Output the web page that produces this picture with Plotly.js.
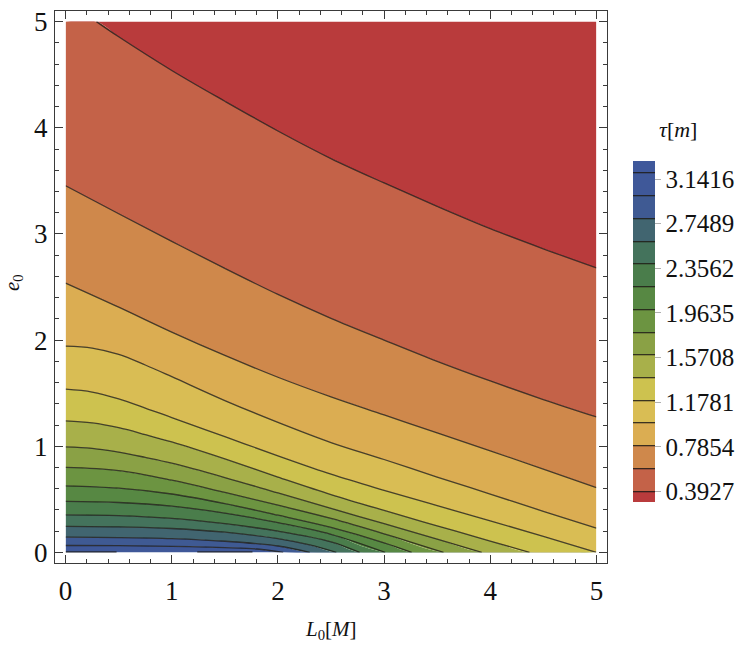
<!DOCTYPE html>
<html>
<head>
<meta charset="utf-8">
<script src="https://cdn.plot.ly/plotly-3.0.1.min.js"></script>
<style>html,body{margin:0;padding:0;background:#ffffff;}</style>
</head>
<body>
<div id="chart" style="width:747px;height:646px;"></div>
<script>
// ---------------- data ----------------
// contour levels of tau[m] (lines drawn every 0.2)
const levels = [0.4, 0.6, 0.8, 1.0, 1.2, 1.4, 1.6, 1.8, 2.0, 2.2, 2.4, 2.6, 2.8, 3.0];

// each contour line: L0 positions and e0 positions
const lvl04_L0 = [0.29, 0.5, 1.0, 1.5, 2.0, 2.5, 3.0, 3.5, 4.0, 4.5, 5.0];
const lvl04_e0 = [5.0, 4.857, 4.54, 4.25, 3.97, 3.71, 3.48, 3.26, 3.05, 2.86, 2.68];

const lvl06_L0 = [0, 0.5, 1.0, 1.5, 2.0, 2.5, 3.0, 3.5, 4.0, 4.5, 5.0];
const lvl06_e0 = [3.454, 3.19, 2.93, 2.675, 2.43, 2.205, 2.0, 1.80, 1.615, 1.44, 1.276];

const lvl08_L0 = [0, 0.5, 1.0, 1.5, 2.0, 2.5, 3.0, 3.5, 4.0, 4.5, 5.0];
const lvl08_e0 = [2.537, 2.31, 2.075, 1.855, 1.65, 1.465, 1.295, 1.125, 0.957, 0.785, 0.611];

const lvl10_L0 = [0, 0.25, 0.5, 0.75, 1.0, 1.5, 2.0, 2.5, 3.0, 3.5, 4.0, 4.5, 5.0];
const lvl10_e0 = [1.944, 1.925, 1.865, 1.765, 1.655, 1.43, 1.225, 1.035, 0.875, 0.71, 0.549, 0.387, 0.229];

const lvl12_L0 = [0, 0.25, 0.5, 0.75, 1.0, 1.5, 2.0, 2.5, 3.0, 3.5, 4.0, 4.5, 5.0];
const lvl12_e0 = [1.537, 1.51, 1.445, 1.36, 1.27, 1.09, 0.91, 0.737, 0.585, 0.44, 0.298, 0.15, 0];

const lvl14_L0 = [0, 0.25, 0.5, 0.75, 1.0, 1.5, 2.0, 2.5, 3.0, 3.5, 4.0, 4.37];
const lvl14_e0 = [1.239, 1.22, 1.175, 1.11, 1.04, 0.88, 0.71, 0.545, 0.395, 0.25, 0.107, 0];

const lvl16_L0 = [0, 0.25, 0.5, 0.75, 1.0, 1.5, 2.0, 2.5, 3.0, 3.5, 3.92];
const lvl16_e0 = [0.994, 0.98, 0.945, 0.895, 0.84, 0.705, 0.56, 0.415, 0.27, 0.125, 0];

const lvl18_L0 = [0, 0.5, 1.0, 1.5, 2.0, 2.5, 3.0, 3.56];
const lvl18_e0 = [0.80, 0.77, 0.68, 0.565, 0.445, 0.32, 0.175, 0];

const lvl20_L0 = [0, 0.5, 1.0, 1.5, 2.0, 2.5, 3.0, 3.26];
const lvl20_e0 = [0.627, 0.605, 0.55, 0.46, 0.35, 0.235, 0.09, 0];

const lvl22_L0 = [0, 0.5, 1.0, 1.5, 2.0, 2.5, 3.01];
const lvl22_e0 = [0.48, 0.47, 0.435, 0.37, 0.28, 0.17, 0];

const lvl24_L0 = [0, 0.5, 1.0, 1.5, 2.0, 2.5, 2.77];
const lvl24_e0 = [0.354, 0.347, 0.32, 0.27, 0.20, 0.10, 0];

const lvl26_L0 = [0, 0.5, 1.0, 1.5, 2.0, 2.3, 2.55];
const lvl26_e0 = [0.245, 0.24, 0.225, 0.19, 0.13, 0.07, 0];

const lvl28_L0 = [0, 0.5, 1.0, 1.5, 2.0, 2.3];
const lvl28_e0 = [0.143, 0.14, 0.13, 0.105, 0.06, 0];

const lvl30_L0 = [0, 0.5, 1.0, 1.5, 1.8, 2.05];
const lvl30_e0 = [0.065, 0.063, 0.057, 0.045, 0.032, 0];

// short dark pieces lying on the e0 = 0 edge
const edgeSegStart = [0, 1.24];
const edgeSegEnd = [0.48, 1.76];

// colour bar
const cbTickVals = [0.3927, 0.7854, 1.1781, 1.5708, 1.9635, 2.3562, 2.7489, 3.1416];
const cbTickText = ["0.3927", "0.7854", "1.1781", "1.5708", "1.9635", "2.3562", "2.7489", "3.1416"];
const bandLow = 0.2, bandHigh = 3.4, bandStep = 0.2;

// axis limits of the data region
const L0_MIN = 0, L0_MAX = 5, E0_MIN = 0, E0_MAX = 5;

// ---------------- styles ----------------
// one colour per band, from the band (0.2,0.4) up to (3.2,3.4)
const bandColors = ["#b93b3c", "#c46248", "#cf884b", "#dbad52", "#d9bd54", "#cdc24f",
  "#a8b04a", "#8aa145", "#6c9441", "#578843", "#4a7d4b", "#44735c",
  "#416570", "#3f5a93", "#3f5899", "#3f589b"];
const lineColor = "rgba(28,26,22,0.78)";
const serif = "Liberation Serif";

const lineX = [lvl04_L0, lvl06_L0, lvl08_L0, lvl10_L0, lvl12_L0, lvl14_L0, lvl16_L0,
  lvl18_L0, lvl20_L0, lvl22_L0, lvl24_L0, lvl26_L0, lvl28_L0, lvl30_L0];
const lineY = [lvl04_e0, lvl06_e0, lvl08_e0, lvl10_e0, lvl12_e0, lvl14_e0, lvl16_e0,
  lvl18_e0, lvl20_e0, lvl22_e0, lvl24_e0, lvl26_e0, lvl28_e0, lvl30_e0];

function bandIndex(v) { return Math.round((v - bandLow) / bandStep); }

const traces = [];
// an empty trace so the frame subplot exists
traces.push({type: 'scatter', mode: 'lines', x: [L0_MIN], y: [E0_MIN], xaxis: 'x2', yaxis: 'y2',
  line: {width: 0}, hoverinfo: 'skip', showlegend: false});

// base of the stack: the e0 = 0 edge
traces.push({type: 'scatter', mode: 'lines', x: [L0_MIN, L0_MAX], y: [E0_MIN, E0_MIN],
  line: {width: 0}, hoverinfo: 'skip', showlegend: false, xaxis: 'x', yaxis: 'y'});

// filled bands, from the highest level (bottom) to the lowest level (top)
for (let i = levels.length - 1; i >= 0; i--) {
  const fx = lineX[i].slice();
  const fy = lineY[i].slice();
  if (fy[fy.length - 1] === E0_MIN && fx[fx.length - 1] < L0_MAX) { fx.push(L0_MAX); fy.push(E0_MIN); }
  if (fx[0] > L0_MIN && fy[0] === E0_MAX) { fx.unshift(L0_MIN); fy.unshift(E0_MAX); }
  traces.push({type: 'scatter', mode: 'lines', x: fx, y: fy,
    line: {width: 0, shape: 'spline'}, fill: 'tonexty',
    fillcolor: bandColors[bandIndex(levels[i])],
    hoverinfo: 'skip', showlegend: false, xaxis: 'x', yaxis: 'y'});
}
// top band up to e0 = 5
traces.push({type: 'scatter', mode: 'lines', x: [L0_MIN, L0_MAX], y: [E0_MAX, E0_MAX],
  line: {width: 0}, fill: 'tonexty', fillcolor: bandColors[0],
  hoverinfo: 'skip', showlegend: false, xaxis: 'x', yaxis: 'y'});

// contour lines
for (let i = 0; i < levels.length; i++) {
  traces.push({type: 'scatter', mode: 'lines', x: lineX[i], y: lineY[i],
    line: {color: lineColor, width: 1.3, shape: 'spline'},
    hoverinfo: 'skip', showlegend: false, xaxis: 'x', yaxis: 'y'});
}
for (let i = 0; i < edgeSegStart.length; i++) {
  traces.push({type: 'scatter', mode: 'lines', x: [edgeSegStart[i], edgeSegEnd[i]], y: [E0_MIN, E0_MIN],
    line: {color: lineColor, width: 2.4},
    hoverinfo: 'skip', showlegend: false, xaxis: 'x', yaxis: 'y'});
}

// stepped colour scale for the colour bar (robust to how the bands are sampled)
const nb = bandColors.length;
const scale = [];
let prev = 0;
for (let k = 0; k < nb; k++) {
  let b = 1;
  if (k < nb - 1) {
    const lo = Math.max(k / (nb - 1), (k + 0.5) / nb);
    const hi = Math.min((k + 1) / (nb - 1), (k + 1.5) / nb);
    b = (lo + hi) / 2;
  }
  scale.push([prev, bandColors[k]]);
  scale.push([b, bandColors[k]]);
  prev = b;
}

// colour-bar carrier, placed outside the visible data window
traces.push({type: 'contour', x: [L0_MAX + 10, L0_MAX + 11], y: [E0_MAX + 10, E0_MAX + 11],
  z: [[bandLow, bandHigh], [bandLow, bandHigh]],
  autocontour: false,
  contours: {start: levels[0], end: levels[levels.length - 1] + bandStep, size: bandStep, coloring: 'fill', showlines: true},
  line: {color: 'rgba(30,28,24,0.85)', width: 1.3},
  colorscale: scale, showscale: true, hoverinfo: 'skip',
  xaxis: 'x', yaxis: 'y',
  colorbar: {
    x: (633 - 55) / 552, xanchor: 'left', xpad: 0,
    y: 1 - (331.5 - 11) / 552, yanchor: 'middle', ypad: 0,
    thickness: 22, thicknessmode: 'pixels', len: 341, lenmode: 'pixels',
    outlinewidth: 0,
    tickmode: 'array', tickvals: cbTickVals, ticktext: cbTickText,
    ticks: 'outside', ticklen: 6, tickwidth: 1, tickcolor: '#b0b0b0',
    tickfont: {family: serif, size: 25, color: '#111'}
  }
});

const innerDom = [0.1 / 5.2, 5.1 / 5.2];
const frameAxis = {
  range: [-0.1, 5.1], showline: true, linecolor: '#3a3a3a', linewidth: 1, mirror: 'allticks',
  ticks: 'inside', ticklen: 8, tickwidth: 1, tickcolor: '#3a3a3a',
  tickmode: 'linear', tick0: 0, dtick: 1,
  minor: {ticks: 'inside', ticklen: 4, tickwidth: 1, tickcolor: '#3a3a3a', tick0: 0, dtick: 0.2},
  showgrid: false, zeroline: false, fixedrange: true,
  tickfont: {family: serif, size: 27, color: '#111'}
};

const layout = {
  width: 747, height: 646,
  font: {family: serif},
  margin: {l: 55, r: 140, t: 11, b: 83, pad: 0},
  paper_bgcolor: '#ffffff', plot_bgcolor: 'rgba(0,0,0,0)',
  showlegend: false, hovermode: false,
  xaxis: {domain: innerDom, range: [L0_MIN, L0_MAX], visible: false, fixedrange: true, anchor: 'y'},
  yaxis: {domain: innerDom, range: [E0_MIN, E0_MAX], visible: false, fixedrange: true, anchor: 'x'},
  xaxis2: Object.assign({}, frameAxis, {domain: [0, 1], anchor: 'y2', ticklabelstandoff: 4}),
  yaxis2: Object.assign({}, frameAxis, {domain: [0, 1], anchor: 'x2', ticklabelstandoff: 1}),
  annotations: [
    {text: '<i>L</i><sub>0</sub>[<i>M</i>]', xref: 'paper', yref: 'paper',
      x: 0.5, y: 1 - (630 - 11) / 552, xanchor: 'center', yanchor: 'middle', showarrow: false,
      font: {family: serif, size: 21, color: '#111'}},
    {text: '<i>e</i><sub>0</sub>', xref: 'paper', yref: 'paper', textangle: -90,
      x: (13 - 55) / 552, y: 1 - (283 - 11) / 552, xanchor: 'center', yanchor: 'middle', showarrow: false,
      font: {family: serif, size: 21, color: '#111'}},
    {text: '<i>τ</i>[<i>m</i>]', xref: 'paper', yref: 'paper',
      x: (678 - 55) / 552, y: 1 - (130 - 11) / 552, xanchor: 'center', yanchor: 'middle', showarrow: false,
      font: {family: serif, size: 22, color: '#111'}}
  ]
};

Plotly.newPlot('chart', traces, layout, {staticPlot: true, displayModeBar: false});
</script>
</body>
</html>
